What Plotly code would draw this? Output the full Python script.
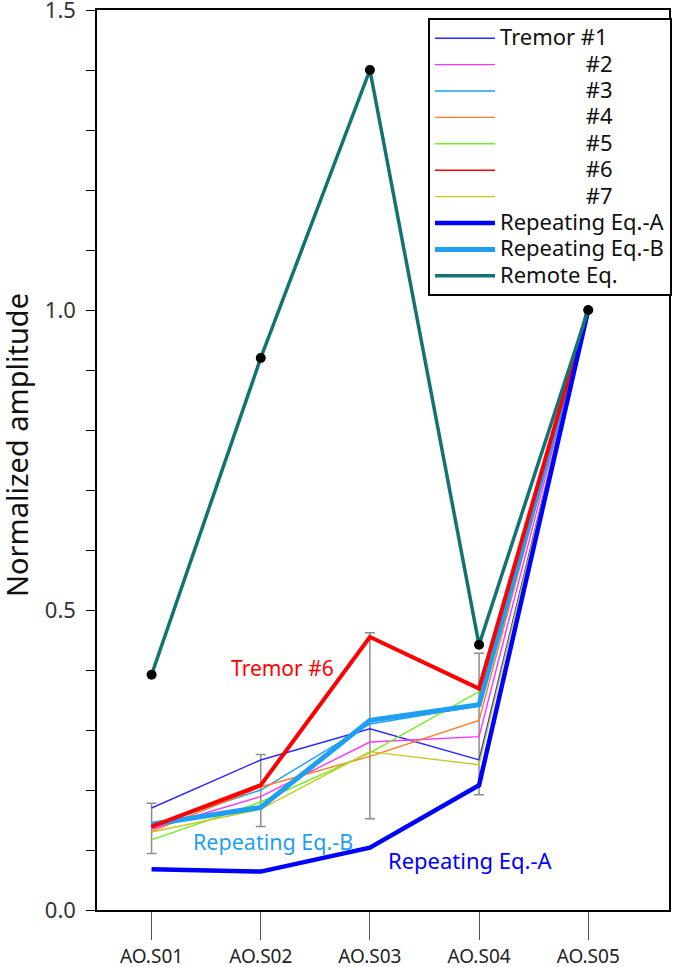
import plotly.graph_objects as go

stations = ["AO.S01", "AO.S02", "AO.S03", "AO.S04", "AO.S05"]

tremor1 = [0.170, 0.250, 0.302, 0.250, 1.0]
tremor2 = [0.135, 0.189, 0.280, 0.289, 1.0]
tremor3 = [0.140, 0.200, 0.310, 0.340, 1.0]
tremor4 = [0.131, 0.205, 0.256, 0.316, 1.0]
tremor5 = [0.117, 0.180, 0.262, 0.364, 1.0]
tremor6 = [0.139, 0.208, 0.455, 0.369, 1.0]
tremor7 = [0.130, 0.168, 0.264, 0.242, 1.0]
repeating_a = [0.068, 0.064, 0.104, 0.208, 1.0]
repeating_b = [0.143, 0.171, 0.316, 0.342, 1.0]
remote_eq = [0.392, 0.920, 1.400, 0.442, 1.0]

err_center = [0.136, 0.199, 0.307, 0.310, 1.0]
err_half = [0.042, 0.060, 0.155, 0.118, 0.0]

y_tick_vals = [0, 0.5, 1.0, 1.5]
y_tick_text = ["0.0", "0.5", "1.0", "1.5"]

NB = "\u00a0"
pad = NB * 15


def lg(s):
    return "<span style='font-size:22px'>" + s + "</span>"


fig = go.Figure()

# error bars (spread of tremor amplitudes)
fig.add_trace(go.Scatter(
    x=stations, y=err_center, mode="markers",
    marker=dict(size=0.1, color="rgba(0,0,0,0)"),
    error_y=dict(type="data", array=err_half, color="#8c8c8c", thickness=1.5, width=5),
    showlegend=False, hoverinfo="skip"))

thin = [
    ("Tremor #1", tremor1, "#2a2aff", 1),
    (pad + "#2", tremor2, "#ff33ff", 2),
    (pad + "#3", tremor3, "#1e9ff2", 3),
    (pad + "#4", tremor4, "#ff7a22", 4),
    (pad + "#5", tremor5, "#6ef01e", 5),
    (pad + "#6", tremor6, "#ff0000", 6),
    (pad + "#7", tremor7, "#c8c81e", 7),
]
for name, vals, col, rank in thin:
    fig.add_trace(go.Scatter(x=stations, y=vals, mode="lines", name=lg(name),
                             line=dict(color=col, width=1.4), legendrank=rank))

fig.add_trace(go.Scatter(x=stations, y=repeating_b, mode="lines", name=lg("Repeating Eq.-B"),
                         line=dict(color="#1e9ff2", width=5), legendrank=9))
fig.add_trace(go.Scatter(x=stations, y=tremor6, mode="lines", showlegend=False,
                         line=dict(color="#ff0000", width=4)))
fig.add_trace(go.Scatter(x=stations, y=repeating_a, mode="lines",
                         name=lg("Repeating Eq.-A"),
                         line=dict(color="#0000ff", width=4.5), legendrank=8))
fig.add_trace(go.Scatter(x=stations, y=remote_eq, mode="lines", name=lg("Remote Eq."),
                         line=dict(color="#137373", width=3.5), legendrank=10))
fig.add_trace(go.Scatter(x=stations, y=remote_eq, mode="markers", showlegend=False,
                         marker=dict(color="black", size=10)))

fig.add_annotation(x=1.2, y=0.403, xref="x", yref="y", text="Tremor #6", showarrow=False,
                   xanchor="center", yanchor="middle",
                   font=dict(color="#ff0000", size=21, family="Noto Sans"))
fig.add_annotation(x=1.11, y=0.115, xref="x", yref="y", text="Repeating Eq.-B", showarrow=False,
                   xanchor="center", yanchor="middle",
                   font=dict(color="#1e9ff2", size=21.5, family="Noto Sans"))
fig.add_annotation(x=2.92, y=0.083, xref="x", yref="y", text="Repeating Eq.-A", showarrow=False,
                   xanchor="center", yanchor="middle",
                   font=dict(color="#0000ff", size=22, family="Noto Sans"))

fig.add_annotation(x=(17 - 97) / 572, y=(910 - 445) / 900, xref="paper", yref="paper",
                   xanchor="center", yanchor="middle",
                   text="Normalized amplitude", textangle=-90, showarrow=False,
                   font=dict(color="#111111", size=29, family="Noto Sans"))

fig.update_layout(
    width=685, height=967,
    margin=dict(l=97, r=16, t=10, b=57, autoexpand=False),
    plot_bgcolor="white", paper_bgcolor="white",
    font=dict(family="Noto Sans", color="#222222"),
    legend=dict(x=(428 - 97) / 572, y=(910 - 18) / 900, xanchor="left", yanchor="top",
                bgcolor="white", bordercolor="black", borderwidth=2,
                font=dict(size=18, color="#111111", family="Noto Sans"),
                traceorder="normal", itemwidth=60),
    xaxis=dict(type="category", range=[-0.5, 4.74], showgrid=False, zeroline=False,
               showline=True, linecolor="black", linewidth=2, mirror=True,
               ticks="outside", ticklen=28, tickwidth=1.2, tickcolor="#555555",
               tickfont=dict(size=19, color="#222222"), automargin=False),
    yaxis=dict(range=[0, 1.5], showgrid=False, zeroline=False,
               showline=True, linecolor="black", linewidth=2, mirror=True,
               tickvals=y_tick_vals, ticktext=[t + NB for t in y_tick_text],
               ticks="outside", ticklen=9, tickwidth=1.2, tickcolor="black",
               tickfont=dict(size=22, color="#333333"), automargin=False,
               ticklabeloverflow="allow",
               minor=dict(dtick=0.1, ticks="outside", ticklen=9, tickcolor="black", tickwidth=1.2)),
)

fig.write_html("out.html", config={"displayModeBar": False},
               post_script="document.body.style.margin='0';")
